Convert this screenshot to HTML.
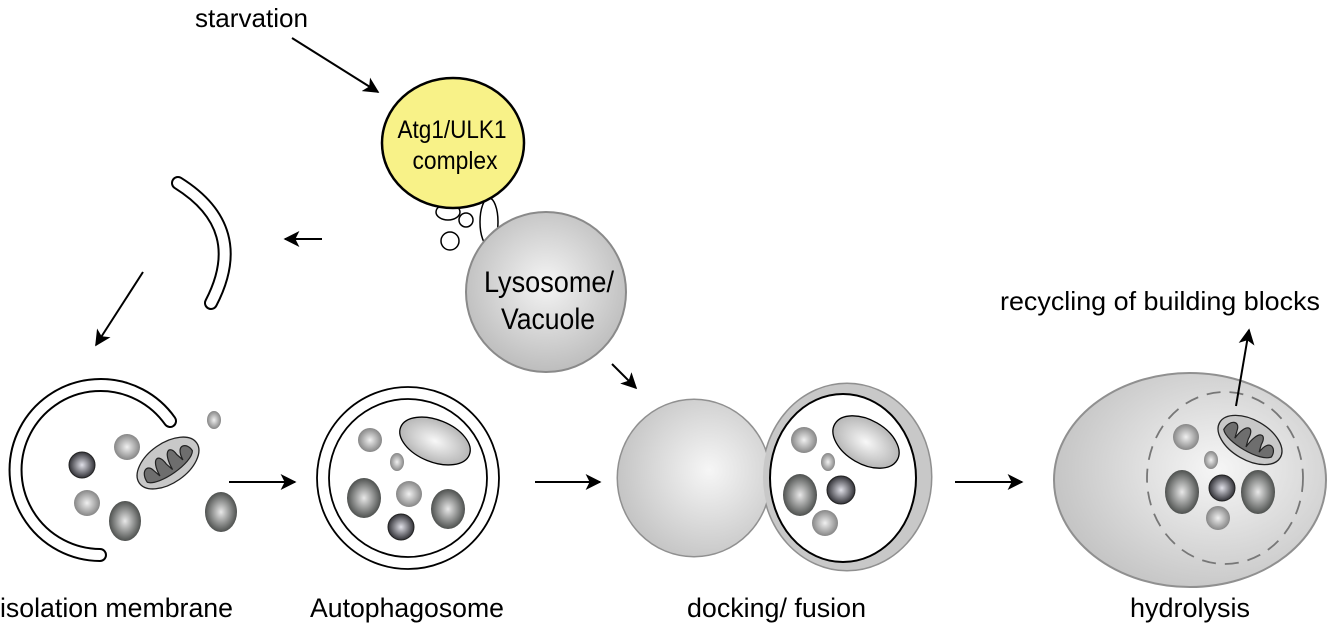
<!DOCTYPE html>
<html><head><meta charset="utf-8"><style>html,body{margin:0;padding:0;background:#fff}svg{display:block}text{font-family:"Liberation Sans",Arial,sans-serif;fill:#000}</style></head><body>
<svg width="1328" height="630" viewBox="0 0 1328 630" xmlns="http://www.w3.org/2000/svg">
<defs>
<radialGradient id="gL" cx="0.5" cy="0.45" r="0.6"><stop offset="0" stop-color="#f4f4f4"/><stop offset="1" stop-color="#b8b8b8"/></radialGradient>
<radialGradient id="gP" cx="0.6" cy="0.45" r="0.7"><stop offset="0" stop-color="#f6f6f6"/><stop offset="1" stop-color="#bdbdbd"/></radialGradient>
<radialGradient id="gM" cx="0.5" cy="0.5" r="0.55"><stop offset="0" stop-color="#f0f0f0"/><stop offset="1" stop-color="#7c7c7c"/></radialGradient>
<radialGradient id="gD" cx="0.5" cy="0.5" r="0.55"><stop offset="0" stop-color="#e8e8e8"/><stop offset="1" stop-color="#3f4240"/></radialGradient>
<radialGradient id="gK" cx="0.5" cy="0.5" r="0.55"><stop offset="0" stop-color="#e0e0e8"/><stop offset="1" stop-color="#202025"/></radialGradient>
<radialGradient id="gE" cx="0.5" cy="0.5" r="0.55"><stop offset="0" stop-color="#f8f8f8"/><stop offset="1" stop-color="#b0b0b0"/></radialGradient>
<marker id="ah2" viewBox="0 0 10 10" refX="9" refY="5" markerWidth="16" markerHeight="16" orient="auto" markerUnits="userSpaceOnUse"><path d="M0,0 L10,5 L0,10 L2.5,5z" fill="#000"/></marker>
<g id="mito">
<ellipse cx="0" cy="0" rx="35" ry="20" fill="#c8c8c8" stroke="#222" stroke-width="1.3"/>
<path d="M-28,4 C-28,-8 -18,-12 -16,-2 L-14,6 C-12,-14 -2,-14 -2,0 L0,8 C2,-14 12,-14 12,-2 L14,6 C16,-12 28,-6 27,4 C20,14 -20,14 -28,4z" fill="#6e6e6e" stroke="#222" stroke-width="1.2"/>
</g>
</defs>

<text x="195" y="27" font-size="26" textLength="113" lengthAdjust="spacingAndGlyphs">starvation</text>
<line x1="292" y1="38" x2="378" y2="92" stroke="#000" stroke-width="2" marker-end="url(#ah2)"/>

<ellipse cx="489" cy="222" rx="9" ry="24" fill="#fff" stroke="#000" stroke-width="1.5"/>
<ellipse cx="448" cy="212" rx="12" ry="8" fill="#fff" stroke="#000" stroke-width="1.5"/>
<circle cx="466" cy="220" r="7" fill="#fff" stroke="#000" stroke-width="1.5"/>
<circle cx="450" cy="241" r="9" fill="#fff" stroke="#000" stroke-width="1.5"/>

<ellipse cx="453" cy="143" rx="71" ry="65" fill="#f8f288" stroke="#000" stroke-width="2.5"/>
<text x="452" y="138" font-size="25" text-anchor="middle" textLength="109" lengthAdjust="spacingAndGlyphs">Atg1/ULK1</text>
<text x="455" y="169" font-size="25" text-anchor="middle" textLength="85" lengthAdjust="spacingAndGlyphs">complex</text>

<circle cx="546" cy="292" r="80" fill="url(#gL)" stroke="#8a8a8a" stroke-width="2"/>
<text x="549" y="292" font-size="30" text-anchor="middle" textLength="130" lengthAdjust="spacingAndGlyphs">Lysosome/</text>
<text x="548" y="329" font-size="30" text-anchor="middle" textLength="94" lengthAdjust="spacingAndGlyphs">Vacuole</text>
<line x1="612" y1="364" x2="636" y2="388" stroke="#000" stroke-width="2" marker-end="url(#ah2)"/>

<path d="M178,183 Q250,228 211,303" fill="none" stroke="#000" stroke-width="14" stroke-linecap="round"/>
<path d="M178,183 Q250,228 211,303" fill="none" stroke="#fff" stroke-width="10" stroke-linecap="round"/>
<line x1="322" y1="239" x2="285" y2="239" stroke="#000" stroke-width="2" marker-end="url(#ah2)"/>
<line x1="143" y1="272" x2="96" y2="345" stroke="#000" stroke-width="2" marker-end="url(#ah2)"/>

<path d="M170,421 A85,85 0 1 0 100,555" fill="none" stroke="#000" stroke-width="14" stroke-linecap="round"/>
<path d="M170,421 A85,85 0 1 0 100,555" fill="none" stroke="#fff" stroke-width="10" stroke-linecap="round"/>
<circle cx="82" cy="465" r="13" fill="url(#gK)" stroke="#222" stroke-width="1"/>
<circle cx="127" cy="447" r="13" fill="url(#gM)"/>
<circle cx="87" cy="503" r="13" fill="url(#gM)"/>
<ellipse cx="125" cy="521" rx="16" ry="20" fill="url(#gD)"/>
<ellipse cx="214" cy="420" rx="7" ry="9" fill="url(#gM)"/>
<ellipse cx="221" cy="512" rx="16" ry="20" fill="url(#gD)"/>
<use href="#mito" transform="translate(168,463) rotate(-35)"/>
<line x1="229" y1="482" x2="295" y2="482" stroke="#000" stroke-width="2" marker-end="url(#ah2)"/>

<circle cx="408" cy="478" r="91" fill="#fff" stroke="#000" stroke-width="1.8"/>
<circle cx="408" cy="478" r="79" fill="#fff" stroke="#000" stroke-width="1.8"/>
<ellipse cx="435" cy="441" rx="37" ry="21" transform="rotate(22 435 441)" fill="url(#gE)" stroke="#000" stroke-width="1.3"/>
<circle cx="370" cy="440" r="12" fill="url(#gM)"/>
<ellipse cx="397" cy="462" rx="7" ry="9" fill="url(#gM)"/>
<ellipse cx="364" cy="498" rx="17" ry="20" fill="url(#gD)"/>
<circle cx="409" cy="494" r="13" fill="url(#gM)"/>
<ellipse cx="448" cy="509" rx="17" ry="20" fill="url(#gD)"/>
<circle cx="401" cy="527" r="13" fill="url(#gK)" stroke="#222" stroke-width="1"/>
<line x1="535" y1="482" x2="600" y2="482" stroke="#000" stroke-width="2" marker-end="url(#ah2)"/>

<ellipse cx="694" cy="478" rx="76" ry="78" fill="none" stroke="#909090" stroke-width="3"/>
<ellipse cx="847" cy="477" rx="84" ry="93" fill="none" stroke="#909090" stroke-width="3"/>
<ellipse cx="694" cy="478" rx="76" ry="78" fill="url(#gP)"/>
<ellipse cx="847" cy="477" rx="84" ry="93" fill="#c8c8c8"/>
<ellipse cx="843" cy="478" rx="73" ry="84" fill="#fff" stroke="#000" stroke-width="2"/>
<ellipse cx="866" cy="442" rx="36" ry="22" transform="rotate(30 866 442)" fill="url(#gE)" stroke="#000" stroke-width="1.3"/>
<circle cx="804" cy="440" r="13" fill="url(#gM)"/>
<ellipse cx="828" cy="462" rx="7" ry="9" fill="url(#gM)"/>
<ellipse cx="800" cy="495" rx="17" ry="21" fill="url(#gD)"/>
<circle cx="841" cy="490" r="14" fill="url(#gK)" stroke="#222" stroke-width="1"/>
<circle cx="825" cy="523" r="13" fill="url(#gM)"/>
<line x1="955" y1="482" x2="1022" y2="482" stroke="#000" stroke-width="2" marker-end="url(#ah2)"/>

<ellipse cx="1190" cy="480" rx="136" ry="107" fill="url(#gP)" stroke="#909090" stroke-width="2"/>
<ellipse cx="1225" cy="478" rx="78" ry="86" fill="none" stroke="#777" stroke-width="1.8" stroke-dasharray="14,9"/>
<use href="#mito" transform="translate(1250,440) rotate(30)"/>
<circle cx="1186" cy="437" r="13" fill="url(#gM)"/>
<ellipse cx="1211" cy="460" rx="7" ry="9" fill="url(#gM)"/>
<ellipse cx="1182" cy="492" rx="17" ry="22" fill="url(#gD)"/>
<circle cx="1222" cy="488" r="13" fill="url(#gK)" stroke="#222" stroke-width="1"/>
<ellipse cx="1258" cy="492" rx="17" ry="22" fill="url(#gD)"/>
<circle cx="1218" cy="518" r="12" fill="url(#gM)"/>
<line x1="1236" y1="406" x2="1249" y2="330" stroke="#000" stroke-width="2" marker-end="url(#ah2)"/>
<text x="1000" y="310" font-size="26" textLength="320" lengthAdjust="spacingAndGlyphs">recycling of building blocks</text>

<text x="0" y="617" font-size="27" textLength="233" lengthAdjust="spacingAndGlyphs">isolation membrane</text>
<text x="310" y="617" font-size="27" textLength="194" lengthAdjust="spacingAndGlyphs">Autophagosome</text>
<text x="687" y="617" font-size="27" textLength="179" lengthAdjust="spacingAndGlyphs">docking/ fusion</text>
<text x="1130" y="617" font-size="27" textLength="120" lengthAdjust="spacingAndGlyphs">hydrolysis</text>
</svg>
</body></html>
